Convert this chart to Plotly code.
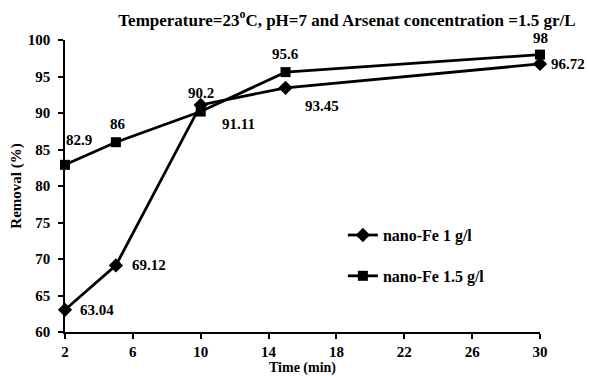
import plotly.graph_objects as go

time_min = [2, 5, 10, 15, 30]
removal_1g = [63.04, 69.12, 91.11, 93.45, 96.72]
removal_15g = [82.9, 86, 90.2, 95.6, 98]
labels_1g = ["63.04", "69.12", "91.11", "93.45", "96.72"]
labels_15g = ["82.9", "86", "90.2", "95.6", "98"]
x_ticks = [2, 6, 10, 14, 18, 22, 26, 30]
y_ticks = [60, 65, 70, 75, 80, 85, 90, 95, 100]

FONT = "Liberation Serif"

fig = go.Figure()
fig.add_trace(go.Scatter(
    x=time_min, y=removal_1g, mode="lines+markers", name="<b>nano-Fe 1 g/l</b>",
    line=dict(color="black", width=2.8),
    marker=dict(symbol="diamond", size=11, color="black"),
    legendgroup="a", cliponaxis=False))
fig.add_trace(go.Scatter(
    x=time_min, y=removal_15g, mode="lines+markers", name="<b>nano-Fe 1.5 g/l</b>",
    line=dict(color="black", width=2.8),
    marker=dict(symbol="square", size=10, color="black"),
    legendgroup="b", cliponaxis=False))

# label offsets (pixels) for each point
off_1g = [(32, 0), (33, 0), (38, -19), (36, -18), (28, 0)]
off_15g = [(14, 25), (2, 18), (0, 19), (0, 18), (0, 17)]

ann = []
for x, y, t, (dx, dy) in zip(time_min, removal_1g, labels_1g, off_1g):
    ann.append(dict(x=x, y=y, text=f"<b>{t}</b>", showarrow=False, xshift=dx, yshift=dy,
                    font=dict(family=FONT, size=15, color="black")))
for x, y, t, (dx, dy) in zip(time_min, removal_15g, labels_15g, off_15g):
    ann.append(dict(x=x, y=y, text=f"<b>{t}</b>", showarrow=False, xshift=dx, yshift=dy,
                    font=dict(family=FONT, size=15, color="black")))
# x axis title
ann.append(dict(x=0.5, y=0, xref="paper", yref="paper", xanchor="center", yanchor="top",
                yshift=-26, text="<b>Time (min)</b>", showarrow=False,
                font=dict(family=FONT, size=14, color="black")))

fig.update_layout(
    width=589, height=376,
    margin=dict(l=65, r=49, t=40, b=44),
    paper_bgcolor="white", plot_bgcolor="white",
    font=dict(family=FONT, size=15, color="black"),
    title=dict(text="<b>Temperature=23<sup>o</sup>C, pH=7 and Arsenat concentration =1.5 gr/L</b>",
               x=0.589, xanchor="center", y=0.948, yanchor="middle",
               font=dict(family=FONT, size=17, color="black")),
    xaxis=dict(range=[2, 30], tickvals=x_ticks, ticktext=[f"<b>{v}</b>" for v in x_ticks],
               showline=True, linecolor="black", linewidth=1.5, ticks="outside",
               ticklen=5, tickcolor="black", tickwidth=1.5, showgrid=False, zeroline=False,
               automargin=False, ticklabelstandoff=0),
    yaxis=dict(range=[60, 100], tickvals=y_ticks, ticktext=[f"<b>{v}</b>" for v in y_ticks],
               showline=True, linecolor="black", linewidth=1.5, ticks="outside",
               ticklen=5, tickcolor="black", tickwidth=1.5, showgrid=False, zeroline=False,
               automargin=False, ticklabelstandoff=5,
               title=dict(text="<b>Removal (%)</b>", standoff=3,
                          font=dict(family=FONT, size=15))),
    legend=dict(x=0.585, y=0.39, xanchor="left", yanchor="top", bgcolor="rgba(0,0,0,0)",
                tracegroupgap=17, font=dict(family=FONT, size=16)),
    annotations=ann,
)

fig.write_html("out.html", config={"displayModeBar": False},
               post_script="document.body.style.margin='0';")
